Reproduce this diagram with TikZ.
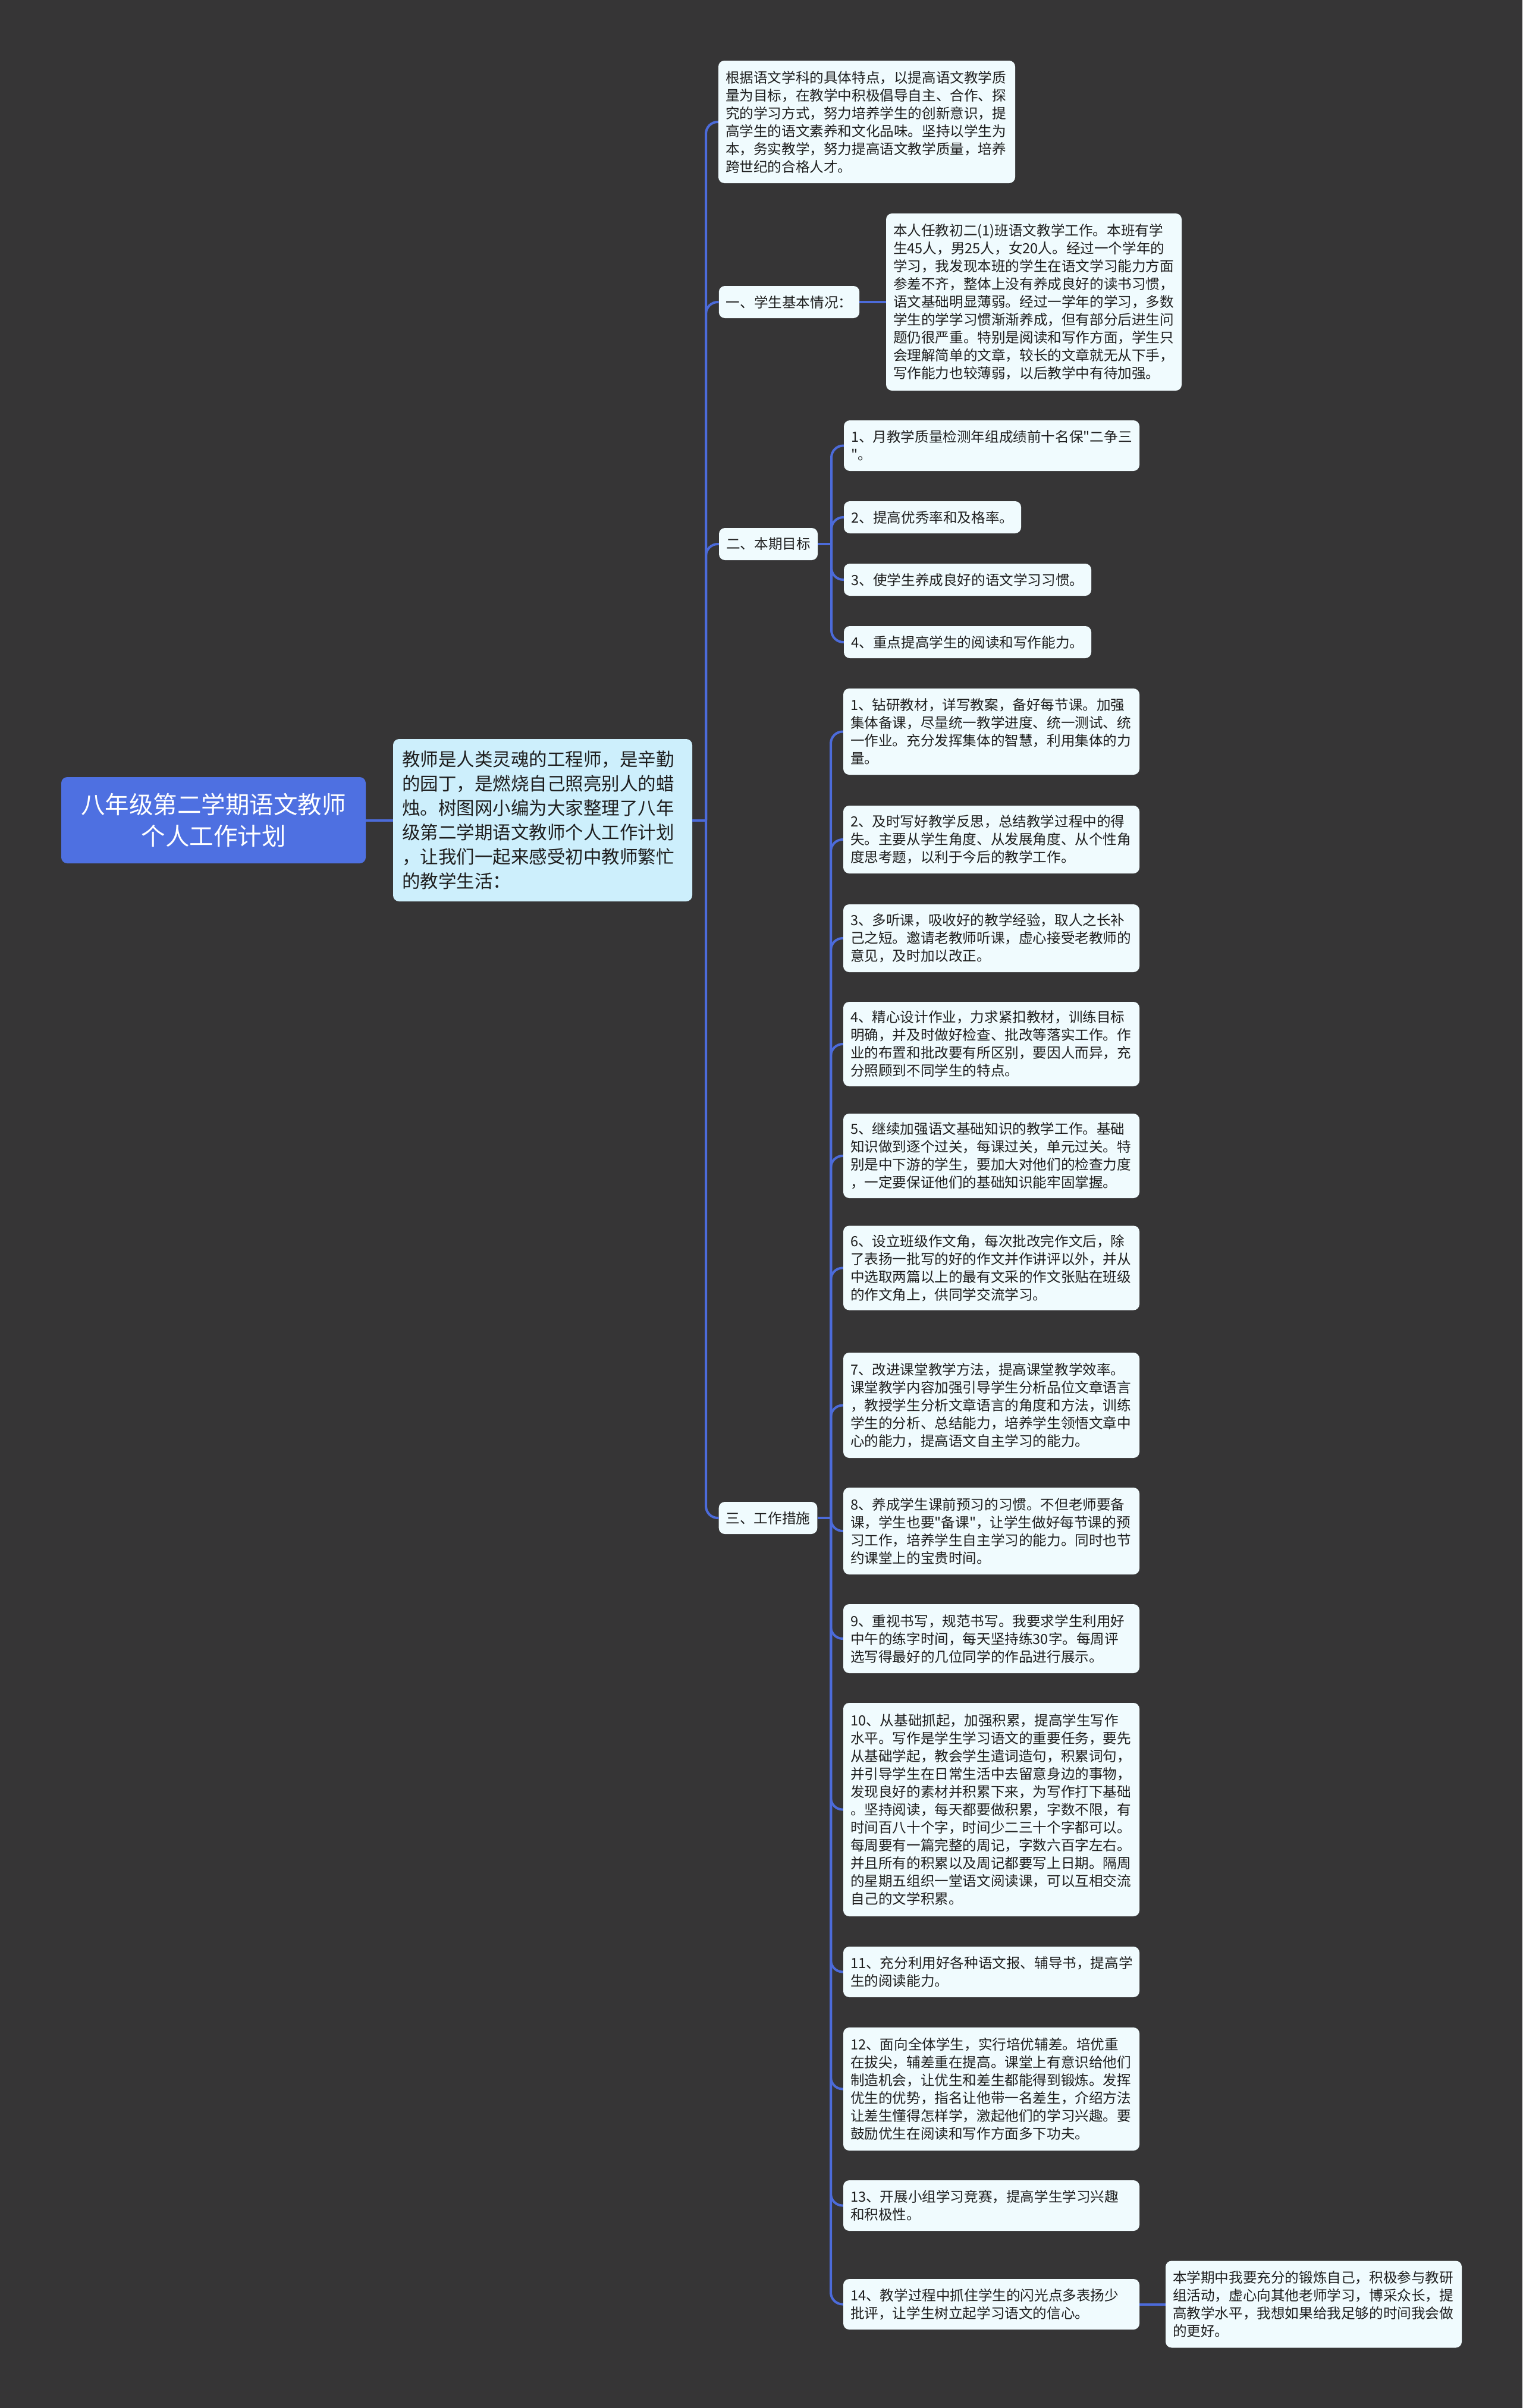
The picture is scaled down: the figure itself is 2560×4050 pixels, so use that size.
\documentclass[tikz,border=0pt]{standalone}
\usepackage{fontspec}
\newfontfamily\cjk{Noto Sans CJK SC}
\definecolor{bgcol}{RGB}{54,53,54}
\definecolor{linecol}{RGB}{76,107,218}
\definecolor{rootcol}{RGB}{78,112,225}
\definecolor{centerfill}{RGB}{205,239,252}
\definecolor{boxfill}{RGB}{240,251,254}
\definecolor{textcol}{RGB}{30,30,30}
\begin{document}
\begin{tikzpicture}[x=1pt,y=-1pt,
  conn/.style={draw=linecol, line width=4pt, rounded corners=20pt},
  box/.style={fill=boxfill, rounded corners=10pt, inner xsep=12pt, inner ysep=0pt, align=left, text=textcol, font=\cjk\fontsize{23.6}{30}\selectfont},
  lbox/.style={box, text width=474pt},
  sbox/.style={box, minimum height=54pt, align=center}
  ]
\fill[bgcol] (0,0) rectangle (2560,4050);
\useasboundingbox (0,0) rectangle (2560,4050);

\node[fill=rootcol, rounded corners=10pt, text=white, align=center, minimum width=512pt, minimum height=145pt, font=\cjk\fontsize{40.5}{53}\selectfont] (root) at (359,1379.5) {八年级第二学期语文教师\\个人工作计划};

\node[box, fill=centerfill, inner xsep=15pt, text width=473pt, minimum height=273pt, font=\cjk\fontsize{30.5}{41}\selectfont] (center) at (912.5,1379.5) {教师是人类灵魂的工程师，是辛勤\\的园丁，是燃烧自己照亮别人的蜡\\烛。树图网小编为大家整理了八年\\级第二学期语文教师个人工作计划\\，让我们一起来感受初中教师繁忙\\的教学生活：};

\node[box, text width=475pt, minimum height=206pt] (intro) at (1457.5,205) {根据语文学科的具体特点，以提高语文教学质\\量为目标，在教学中积极倡导自主、合作、探\\究的学习方式，努力培养学生的创新意识，提\\高学生的语文素养和文化品味。坚持以学生为\\本，务实教学，努力提高语文教学质量，培养\\跨世纪的合格人才。};

\node[sbox, minimum width=236pt] (b1) at (1327,508) {一、学生基本情况：};
\node[box, text width=473pt, minimum height=298pt] (b1c) at (1738.5,508) {本人任教初二(1)班语文教学工作。本班有学\\生45人，男25人，女20人。经过一个学年的\\学习，我发现本班的学生在语文学习能力方面\\参差不齐，整体上没有养成良好的读书习惯，\\语文基础明显薄弱。经过一学年的学习，多数\\学生的学学习惯渐渐养成，但有部分后进生问\\题仍很严重。特别是阅读和写作方面，学生只\\会理解简单的文章，较长的文章就无从下手，\\写作能力也较薄弱，以后教学中有待加强。};

\node[sbox, minimum width=166pt] (b2) at (1292,915) {二、本期目标};
\node[box, text width=473pt, minimum height=85pt] (g1) at (1667.5,749.5) {1、月教学质量检测年组成绩前十名保"二争三\\"。};
\node[sbox, minimum width=298pt] (g2) at (1568,870) {2、提高优秀率和及格率。};
\node[sbox, minimum width=416pt] (g3) at (1627,975) {3、使学生养成良好的语文学习习惯。};
\node[sbox, minimum width=416pt] (g4) at (1627,1080) {4、重点提高学生的阅读和写作能力。};

\node[sbox, minimum width=165pt] (b3) at (1291.5,2553) {三、工作措施};

\node[lbox, minimum height=145pt] (m1) at (1667,1230.5) {1、钻研教材，详写教案，备好每节课。加强\\集体备课，尽量统一教学进度、统一测试、统\\一作业。充分发挥集体的智慧，利用集体的力\\量。};
\node[lbox, minimum height=114pt] (m2) at (1667,1412) {2、及时写好教学反思，总结教学过程中的得\\失。主要从学生角度、从发展角度、从个性角\\度思考题，以利于今后的教学工作。};
\node[lbox, minimum height=114pt] (m3) at (1667,1578) {3、多听课，吸收好的教学经验，取人之长补\\己之短。邀请老教师听课，虚心接受老教师的\\意见，及时加以改正。};
\node[lbox, minimum height=142pt] (m4) at (1667,1756) {4、精心设计作业，力求紧扣教材，训练目标\\明确，并及时做好检查、批改等落实工作。作\\业的布置和批改要有所区别，要因人而异，充\\分照顾到不同学生的特点。};
\node[lbox, minimum height=142pt] (m5) at (1667,1944) {5、继续加强语文基础知识的教学工作。基础\\知识做到逐个过关，每课过关，单元过关。特\\别是中下游的学生，要加大对他们的检查力度\\，一定要保证他们的基础知识能牢固掌握。};
\node[lbox, minimum height=142pt] (m6) at (1667,2132.5) {6、设立班级作文角，每次批改完作文后，除\\了表扬一批写的好的作文并作讲评以外，并从\\中选取两篇以上的最有文采的作文张贴在班级\\的作文角上，供同学交流学习。};
\node[lbox, minimum height=177pt] (m7) at (1667,2363.5) {7、改进课堂教学方法，提高课堂教学效率。\\课堂教学内容加强引导学生分析品位文章语言\\，教授学生分析文章语言的角度和方法，训练\\学生的分析、总结能力，培养学生领悟文章中\\心的能力，提高语文自主学习的能力。};
\node[lbox, minimum height=146pt] (m8) at (1667,2575) {8、养成学生课前预习的习惯。不但老师要备\\课，学生也要"备课"，让学生做好每节课的预\\习工作，培养学生自主学习的能力。同时也节\\约课堂上的宝贵时间。};
\node[lbox, minimum height=116pt] (m9) at (1667,2756) {9、重视书写，规范书写。我要求学生利用好\\中午的练字时间，每天坚持练30字。每周评\\选写得最好的几位同学的作品进行展示。};
\node[lbox, minimum height=359pt] (m10) at (1667,3043.5) {10、从基础抓起，加强积累，提高学生写作\\水平。写作是学生学习语文的重要任务，要先\\从基础学起，教会学生遣词造句，积累词句，\\并引导学生在日常生活中去留意身边的事物，\\发现良好的素材并积累下来，为写作打下基础\\。坚持阅读，每天都要做积累，字数不限，有\\时间百八十个字，时间少二三十个字都可以。\\每周要有一篇完整的周记，字数六百字左右。\\并且所有的积累以及周记都要写上日期。隔周\\的星期五组织一堂语文阅读课，可以互相交流\\自己的文学积累。};
\node[lbox, minimum height=85pt] (m11) at (1667,3316.5) {11、充分利用好各种语文报、辅导书，提高学\\生的阅读能力。};
\node[lbox, minimum height=207pt] (m12) at (1667,3513.5) {12、面向全体学生，实行培优辅差。培优重\\在拔尖，辅差重在提高。课堂上有意识给他们\\制造机会，让优生和差生都能得到锻炼。发挥\\优生的优势，指名让他带一名差生，介绍方法\\让差生懂得怎样学，激起他们的学习兴趣。要\\鼓励优生在阅读和写作方面多下功夫。};
\node[lbox, minimum height=85pt] (m13) at (1667,3709.5) {13、开展小组学习竞赛，提高学生学习兴趣\\和积极性。};
\node[lbox, minimum height=85pt] (m14) at (1667,3875.5) {14、教学过程中抓住学生的闪光点多表扬少\\批评，让学生树立起学习语文的信心。};
\node[lbox, minimum height=146pt] (last) at (2209,3875.5) {本学期中我要充分的锻炼自己，积极参与教研\\组活动，虚心向其他老师学习，博采众长，提\\高教学水平，我想如果给我足够的时间我会做\\的更好。};

% connectors
\draw[conn] (root.east) -- (center.west);
\coordinate (J0) at (1187,1379.5);
\draw[conn] (center.east) -- (J0);
\foreach \n in {intro,b1,b2,b3} \draw[conn] (J0) |- (\n.west);
\draw[conn] (b1.east) -- (b1c.west);
\coordinate (J2) at (1398,915);
\draw[conn] (b2.east) -- (J2);
\foreach \n in {g1,g2,g3,g4} \draw[conn] (J2) |- (\n.west);
\coordinate (J3) at (1397,2553);
\draw[conn] (b3.east) -- (J3);
\foreach \n in {m1,m2,m3,m4,m5,m6,m7,m8,m9,m10,m11,m12,m13,m14} \draw[conn] (J3) |- (\n.west);
\draw[conn] (m14.east) -- (last.west);
\end{tikzpicture}
\end{document}
